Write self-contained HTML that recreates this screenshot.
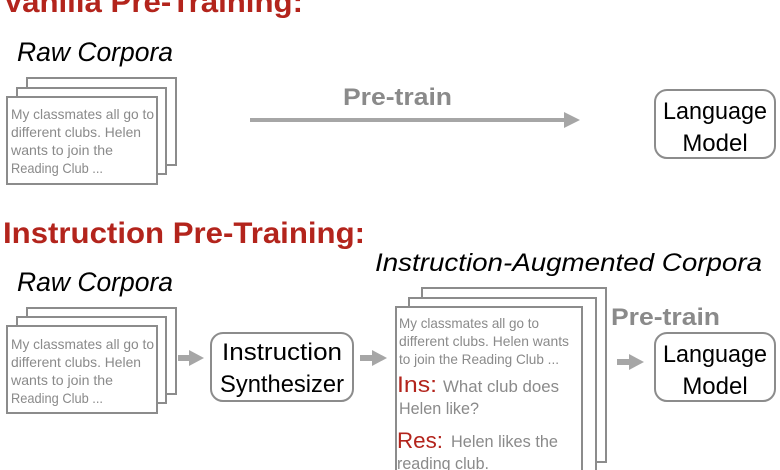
<!DOCTYPE html>
<html><head><style>
html,body{margin:0;padding:0;background:#fff;}
svg{display:block;}
text{font-family:"Liberation Sans",sans-serif;}
</style></head><body>
<svg width="780" height="470" viewBox="0 0 780 470" xmlns="http://www.w3.org/2000/svg">
<defs>
<marker id="ah" markerWidth="4" markerHeight="4" refX="2" refY="2" orient="auto" markerUnits="strokeWidth">
<path d="M0,0 L4,2 L0,4 z" fill="#a6a6a6"/></marker>
</defs>
<text x="3" y="12" font-size="30" font-weight="bold" fill="#b3241c" textLength="300" lengthAdjust="spacingAndGlyphs">Vanilla Pre-Training:</text>
<text x="3" y="243" font-size="30" font-weight="bold" fill="#b3241c" textLength="362" lengthAdjust="spacingAndGlyphs">Instruction Pre-Training:</text>
<text x="17" y="61" font-size="27" font-style="italic" fill="#000" textLength="156" lengthAdjust="spacingAndGlyphs">Raw Corpora</text>
<text x="17" y="291" font-size="27" font-style="italic" fill="#000" textLength="156" lengthAdjust="spacingAndGlyphs">Raw Corpora</text>
<text x="375" y="271" font-size="25" font-style="italic" fill="#000" textLength="387" lengthAdjust="spacingAndGlyphs">Instruction-Augmented Corpora</text>

<g fill="#fff" stroke="#8c8c8c" stroke-width="2">
<rect x="27" y="78" width="149" height="87"/>
<rect x="17" y="88" width="149" height="86"/>
<rect x="7" y="97" width="150" height="87"/>
<rect x="27" y="308" width="149" height="86"/>
<rect x="17" y="317" width="149" height="86"/>
<rect x="7" y="326" width="150" height="87"/>
<rect x="422" y="288" width="184" height="174"/>
<rect x="409" y="298" width="187" height="180"/>
<rect x="396" y="307" width="186" height="180"/>
</g>
<g font-size="14" fill="#8a8a8a" lengthAdjust="spacingAndGlyphs">
<text x="11" y="119" textLength="143" lengthAdjust="spacingAndGlyphs">My classmates all go to</text>
<text x="11" y="137" textLength="130" lengthAdjust="spacingAndGlyphs">different clubs. Helen</text>
<text x="11" y="155" textLength="102" lengthAdjust="spacingAndGlyphs">wants to join the</text>
<text x="11" y="173" textLength="92" lengthAdjust="spacingAndGlyphs">Reading Club ...</text>
<text x="11" y="349" textLength="143" lengthAdjust="spacingAndGlyphs">My classmates all go to</text>
<text x="11" y="367" textLength="130" lengthAdjust="spacingAndGlyphs">different clubs. Helen</text>
<text x="11" y="385" textLength="102" lengthAdjust="spacingAndGlyphs">wants to join the</text>
<text x="11" y="403" textLength="92" lengthAdjust="spacingAndGlyphs">Reading Club ...</text>
<text x="399" y="328" textLength="140" lengthAdjust="spacingAndGlyphs">My classmates all go to</text>
<text x="399" y="346" textLength="170" lengthAdjust="spacingAndGlyphs">different clubs. Helen wants</text>
<text x="399" y="364" textLength="160" lengthAdjust="spacingAndGlyphs">to join the Reading Club ...</text>
</g>
<g font-size="17" fill="#8a8a8a">
<text x="399" y="414" textLength="80" lengthAdjust="spacingAndGlyphs">Helen like?</text>
<text x="397" y="469" textLength="92" lengthAdjust="spacingAndGlyphs">reading club.</text>
<text x="443" y="392" textLength="116" lengthAdjust="spacingAndGlyphs">What club does</text>
<text x="451" y="447" textLength="107" lengthAdjust="spacingAndGlyphs">Helen likes the</text>
</g>
<text x="397" y="392" font-size="22" fill="#b3241c" textLength="40" lengthAdjust="spacingAndGlyphs">Ins:</text>
<text x="397" y="448" font-size="22" fill="#b3241c" textLength="46" lengthAdjust="spacingAndGlyphs">Res:</text>

<g fill="#fff" stroke="#8c8c8c" stroke-width="2">
<rect x="655" y="90" width="120" height="68" rx="12"/>
<rect x="655" y="333" width="120" height="68" rx="12"/>
<rect x="211" y="333" width="142" height="68" rx="12"/>
</g>
<g font-size="24" fill="#000" text-anchor="middle">
<text x="715" y="119" textLength="104" lengthAdjust="spacingAndGlyphs">Language</text><text x="715" y="151">Model</text>
<text x="715" y="362" textLength="104" lengthAdjust="spacingAndGlyphs">Language</text><text x="715" y="394">Model</text>
<text x="282" y="360" textLength="120" lengthAdjust="spacingAndGlyphs">Instruction</text><text x="282" y="392" textLength="124" lengthAdjust="spacingAndGlyphs">Synthesizer</text>
</g>
<g stroke="#a6a6a6" stroke-width="4">
<line x1="250" y1="120" x2="572" y2="120" marker-end="url(#ah)"/>
</g>
<g fill="#a6a6a6">
<rect x="178" y="355" width="13" height="6"/><path d="M189,350 L204,358 L189,366 z"/>
<rect x="360" y="355" width="14" height="6"/><path d="M372,350 L387,358 L372,366 z"/>
<rect x="617" y="359" width="14" height="6"/><path d="M629,354 L644,362 L629,370 z"/>
</g>
<text x="343" y="105" font-size="24" font-weight="bold" fill="#8a8a8a" textLength="109" lengthAdjust="spacingAndGlyphs">Pre-train</text>
<text x="611" y="325" font-size="24" font-weight="bold" fill="#8a8a8a" textLength="109" lengthAdjust="spacingAndGlyphs">Pre-train</text>
</svg>
</body></html>
